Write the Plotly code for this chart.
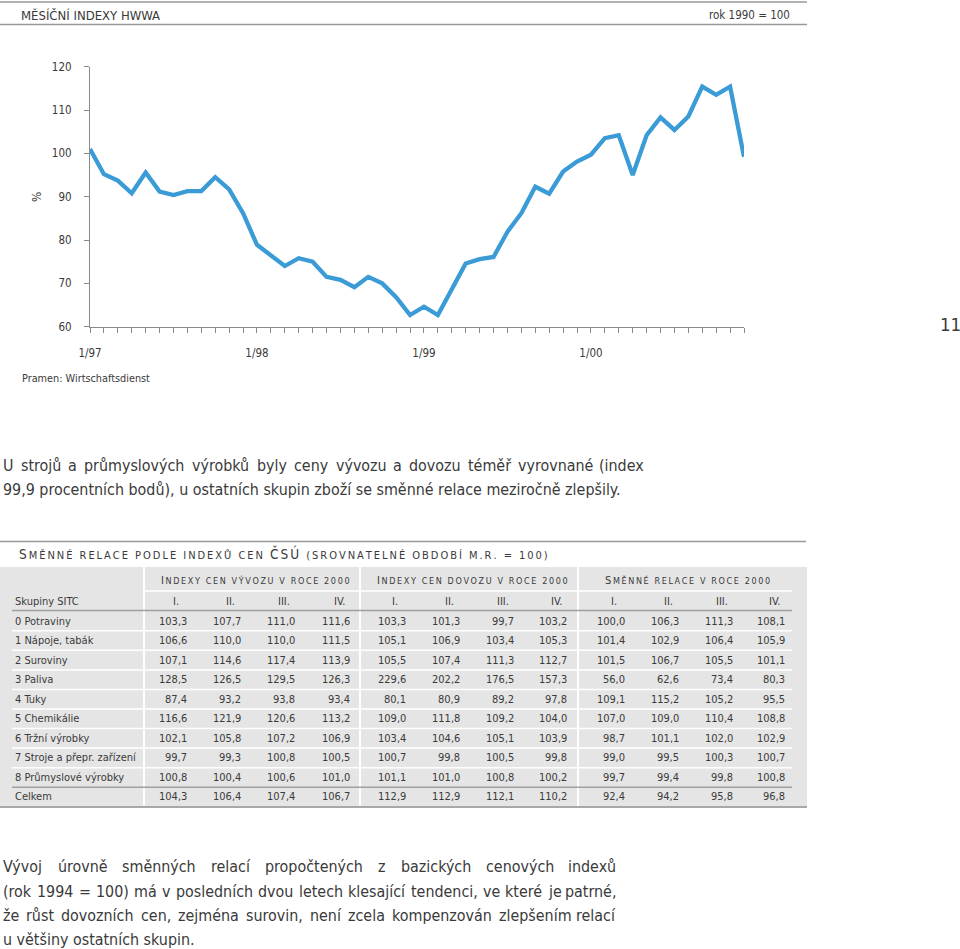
import plotly.graph_objects as go

W, H = 960, 949

# ---------------- data ----------------
month_labels = ["1/97", "2/97", "3/97", "4/97", "5/97", "6/97", "7/97", "8/97", "9/97", "10/97", "11/97", "12/97",
                "1/98", "2/98", "3/98", "4/98", "5/98", "6/98", "7/98", "8/98", "9/98", "10/98", "11/98", "12/98",
                "1/99", "2/99", "3/99", "4/99", "5/99", "6/99", "7/99", "8/99", "9/99", "10/99", "11/99", "12/99",
                "1/00", "2/00", "3/00", "4/00", "5/00", "6/00", "7/00", "8/00", "9/00", "10/00", "11/00", "12/00"]
hwwa_index = [101.0, 95.2, 93.7, 90.8, 95.6, 91.2, 90.4, 91.3, 91.3, 94.5, 91.7, 86.2,
              78.9, 76.6, 74.0, 75.8, 75.0, 71.5, 70.8, 69.1, 71.5, 70.0, 66.8, 62.7,
              64.6, 62.7, 68.5, 74.6, 75.6, 76.1, 81.9, 86.2, 92.3, 90.7, 95.8, 98.1,
              99.7, 103.5, 104.2, 95.0, 104.2, 108.3, 105.4, 108.5, 115.4, 113.5, 115.4, 99.2]
x_tick_labels = ["1/97", "1/98", "1/99", "1/00"]
y_tick_values = [60, 70, 80, 90, 100, 110, 120]

sitc_groups = ["0 Potraviny", "1 Nápoje, tabák", "2 Suroviny", "3 Paliva", "4 Tuky",
               "5 Chemikálie", "6 Tržní výrobky", "7 Stroje a přepr. zařízení",
               "8 Průmyslové výrobky", "Celkem"]
export_index = [[103.3, 107.7, 111.0, 111.6], [106.6, 110.0, 110.0, 111.5], [107.1, 114.6, 117.4, 113.9],
                [128.5, 126.5, 129.5, 126.3], [87.4, 93.2, 93.8, 93.4], [116.6, 121.9, 120.6, 113.2],
                [102.1, 105.8, 107.2, 106.9], [99.7, 99.3, 100.8, 100.5], [100.8, 100.4, 100.6, 101.0],
                [104.3, 106.4, 107.4, 106.7]]
import_index = [[103.3, 101.3, 99.7, 103.2], [105.1, 106.9, 103.4, 105.3], [105.5, 107.4, 111.3, 112.7],
                [229.6, 202.2, 176.5, 157.3], [80.1, 80.9, 89.2, 97.8], [109.0, 111.8, 109.2, 104.0],
                [103.4, 104.6, 105.1, 103.9], [100.7, 99.8, 100.5, 99.8], [101.1, 101.0, 100.8, 100.2],
                [112.9, 112.9, 112.1, 110.2]]
terms_of_trade = [[100.0, 106.3, 111.3, 108.1], [101.4, 102.9, 106.4, 105.9], [101.5, 106.7, 105.5, 101.1],
                  [56.0, 62.6, 73.4, 80.3], [109.1, 115.2, 105.2, 95.5], [107.0, 109.0, 110.4, 108.8],
                  [98.7, 101.1, 102.0, 102.9], [99.0, 99.5, 100.3, 100.7], [99.7, 99.4, 99.8, 100.8],
                  [92.4, 94.2, 95.8, 96.8]]
quarters = ["I.", "II.", "III.", "IV."]
group_titles = ["INDEXY CEN VÝVOZU V ROCE 2000", "INDEXY CEN DOVOZU V ROCE 2000", "SMĚNNÉ RELACE V ROCE 2000"]

chart_title = "MĚSÍČNÍ INDEXY HWWA"
chart_note = "rok 1990 = 100"
source_text = "Pramen: Wirtschaftsdienst"
table_title = "SMĚNNÉ RELACE PODLE INDEXŮ CEN ČSÚ (SROVNATELNÉ OBDOBÍ M.R. = 100)"
para1 = ["U strojů a průmyslových výrobků byly ceny vývozu a dovozu téměř vyrovnané (index",
         "99,9 procentních bodů), u ostatních skupin zboží se směnné relace meziročně zlepšily."]
para2 = ["Vývoj úrovně směnných relací propočtených z bazických cenových indexů",
         "(rok 1994 = 100) má v posledních dvou letech klesající tendenci, ve které je patrné,",
         "že růst dovozních cen, zejména surovin, není zcela kompenzován zlepšením relací",
         "u většiny ostatních skupin."]

# ---------------- styling ----------------
FONT = "DejaVu Sans Condensed, DejaVu Sans, sans-serif"
TXT = "#3a3a3a"
AXC = "#8a8a8a"
LINE_BLUE = "#3a9bd6"
GRAY_BG = "#e5e5e5"
THIN = "\u2009"
NBSP = "\u00a0"


def fx(x):
    return x / W


def fy(y):
    return 1 - y / H


annotations = []
shapes = []


def text(x, y, s, size=13, anchor="left", color=TXT, angle=0):
    annotations.append(dict(x=fx(x), y=fy(y), xref="paper", yref="paper", text=s, showarrow=False,
                            xanchor=anchor, yanchor="middle", textangle=angle, borderpad=0,
                            font=dict(family=FONT, size=size, color=color)))


def hline(x0, x1, y, color, width):
    shapes.append(dict(type="line", xref="paper", yref="paper", x0=fx(x0), x1=fx(x1), y0=fy(y), y1=fy(y),
                       line=dict(color=color, width=width), layer="above"))


def vline(x, y0, y1, color, width):
    shapes.append(dict(type="line", xref="paper", yref="paper", x0=fx(x), x1=fx(x), y0=fy(y0), y1=fy(y1),
                       line=dict(color=color, width=width), layer="above"))


def spaced(s, big, big_words=()):
    out = []
    for wi, w in enumerate(s.split(" ")):
        letters = []
        for li, ch in enumerate(w):
            if (wi == 0 and li == 0) or w in big_words:
                letters.append(f"<span style='font-size:{big}px'>{ch}</span>")
            else:
                letters.append(ch)
        out.append(THIN.join(letters))
    return (THIN + NBSP + THIN).join(out)


# approximate DejaVu Sans glyph widths (per 1000 em)
CW = {}
for c in "bdghnpqu":
    CW[c] = 634
for c in "0123456789":
    CW[c] = 636
CW.update({"a": 613, "c": 550, "e": 615, "f": 352, "i": 278, "j": 278, "k": 579, "l": 278, "m": 974,
           "o": 612, "r": 411, "s": 521, "t": 392, "v": 592, "w": 818, "x": 592, "y": 592, "z": 525,
           " ": 318, "(": 390, ")": 390, ",": 318, ".": 318, "=": 838, "U": 732})
ACC = {"á": "a", "é": "e", "ě": "e", "í": "i", "ó": "o", "ú": "u", "ů": "u", "ý": "y", "č": "c", "ř": "r",
       "š": "s", "ž": "z", "ť": "t", "ň": "n", "ď": "d"}


def est_width(word, size):
    tot = 0
    for ch in word:
        b = ACC.get(ch, ch)
        tot += CW.get(b, 700 if b.isupper() else 600)
    return tot * size / 1000 * 0.9


def justified(line, x0, x1, y, size):
    words = line.split(" ")
    widths = [est_width(w, size) for w in words]
    gap = (x1 - x0 - sum(widths)) / (len(words) - 1)
    x = x0
    for i, w in enumerate(words):
        if i == len(words) - 1:
            text(x1, y, w, size, "right")
        else:
            text(x, y, w, size, "left")
        x += widths[i] + gap


# ---------------- chart ----------------
fig = go.Figure()
fig.add_trace(go.Scatter(x=month_labels, y=hwwa_index, mode="lines",
                         line=dict(color=LINE_BLUE, width=4.3), hoverinfo="skip", showlegend=False))

x_ticktext = [m if m in x_tick_labels else "" for m in month_labels]

PS = 15.9  # paragraph font size

# header rules and titles
hline(0, 807, 2, "#999999", 1.5)
hline(0, 807, 24.5, "#999999", 1.5)
text(20, 15, chart_title, 13)
text(791, 15, chart_note, 11.5, "right")
text(37, 197, "%", 12, "center", angle=-90)
text(21, 378, source_text, 10.8)
text(962, 324, "11", 18.5, "right")

# paragraph 1
justified(para1[0], 2, 645, 465, PS)
text(2, 489, para1[1], PS)

# table
hline(0, 806, 541.5, "#999999", 1.5)
text(18, 553.5, spaced(table_title, 13.5, big_words=("ČSÚ",)), 11)
shapes.append(dict(type="rect", xref="paper", yref="paper", x0=fx(0), x1=fx(807), y0=fy(807), y1=fy(567),
                   fillcolor=GRAY_BG, line=dict(width=0), layer="below"))
row_h = 19.55
row0 = 621.0
col_right = [[188, 242, 296, 351], [407, 461, 515, 568], [626, 680, 734, 786]]
group_center = [255, 472, 687]
sep_x = [144, 360, 578]
TS = 11  # table font size

for sx in sep_x:
    vline(sx, 567, 806, "white", 2)
hline(144, 792, 591, "white", 1.5)
for i in range(len(sitc_groups) - 2):
    hline(12, 792, row0 + i * row_h + row_h / 2, "white", 1.5)
hline(12, 792, 610.5, "#a0a0a0", 1.5)
hline(12, 792, row0 + 8.5 * row_h, "#a0a0a0", 1.5)
hline(0, 807, 807, "#a8a8a8", 2)

for g, title in enumerate(group_titles):
    text(group_center[g], 580, spaced(title, 11), 9, "center")
    for q, qn in enumerate(quarters):
        text(col_right[g][q] - 12, 601.5, qn, TS, "center")
text(14, 601.5, "Skupiny SITC", TS)

tables = [export_index, import_index, terms_of_trade]
for r, name in enumerate(sitc_groups):
    y = row0 + r * row_h
    text(14, y, name, TS)
    for g, tbl in enumerate(tables):
        for q in range(4):
            s = f"{tbl[r][q]:.1f}".replace(".", ",")
            text(col_right[g][q], y, s, TS, "right")

# paragraph 2
justified(para2[0], 2, 617, 866, PS)
justified(para2[1], 2, 617, 891, PS)
justified(para2[2], 2, 617, 915, PS)
text(2, 939, para2[3], PS)

fig.update_layout(
    width=W, height=H, margin=dict(l=0, r=0, t=0, b=0, autoexpand=False),
    paper_bgcolor="white", plot_bgcolor="white",
    font=dict(family=FONT, color=TXT),
    showlegend=False,
    xaxis=dict(domain=[fx(90), fx(744)], type="category", range=[0, 47], automargin=False,
               tickmode="array", tickvals=month_labels, ticktext=x_ticktext, tickangle=0,
               ticks="outside", ticklen=5, tickcolor=AXC, tickwidth=1,
               showline=True, linecolor=AXC, linewidth=1.2, showgrid=False, zeroline=False,
               tickfont=dict(family=FONT, size=11.5, color=TXT), ticklabelstandoff=10, fixedrange=True),
    yaxis=dict(domain=[fy(326.7), fy(66.7)], range=[60, 120], automargin=False,
               tickmode="array", tickvals=y_tick_values,
               ticks="outside", ticklen=5, tickcolor=AXC, tickwidth=1,
               showline=True, linecolor=AXC, linewidth=1.2, showgrid=False, zeroline=False,
               tickfont=dict(family=FONT, size=11.5, color=TXT), ticklabelstandoff=10, fixedrange=True),
    annotations=annotations, shapes=shapes,
)

fig.write_html("out.html", config={"displayModeBar": False},
               post_script="document.body.style.margin='0px';")
